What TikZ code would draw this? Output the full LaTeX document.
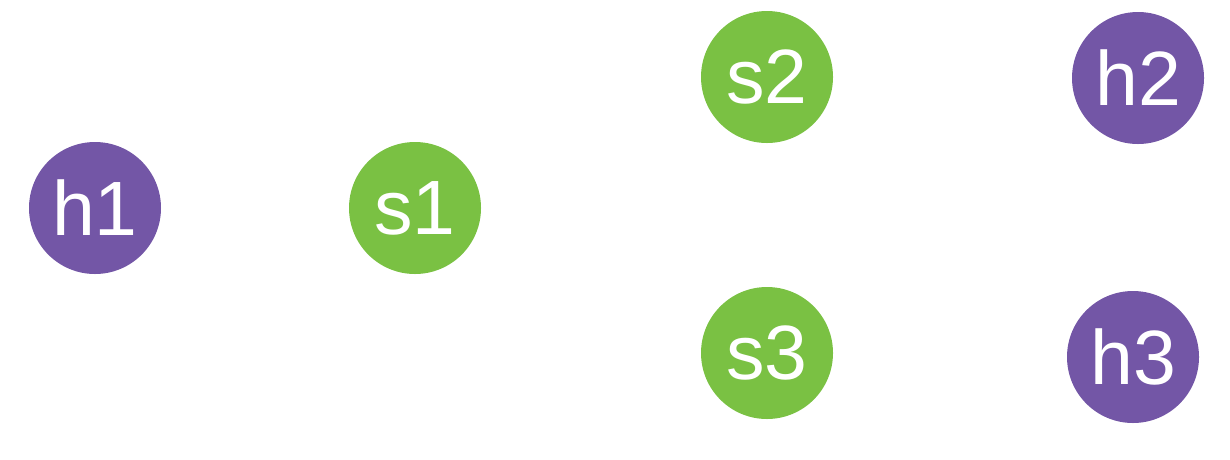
\documentclass[tikz,border=0pt]{standalone}
\usepackage{fontspec}
\setmainfont{Liberation Sans}
\definecolor{hostc}{HTML}{7356A6}
\definecolor{swc}{HTML}{7AC143}
\begin{document}
\begin{tikzpicture}[x=1pt,y=-1pt,
  dev/.style={circle,minimum size=132pt,inner sep=0pt,text=white,font=\fontsize{77}{77}\selectfont},
  host/.style={dev,fill=hostc},
  sw/.style={dev,fill=swc}]
\useasboundingbox (0,0) rectangle (1230,459);
\node[host] (h1) at (95,208) {h1};
\node[sw] (s1) at (415,208) {s1};
\node[sw] (s2) at (767,77) {s2};
\node[sw] (s3) at (767,353) {s3};
\node[host] (h2) at (1138,78) {h2};
\node[host] (h3) at (1133,357) {h3};
\end{tikzpicture}
\end{document}
